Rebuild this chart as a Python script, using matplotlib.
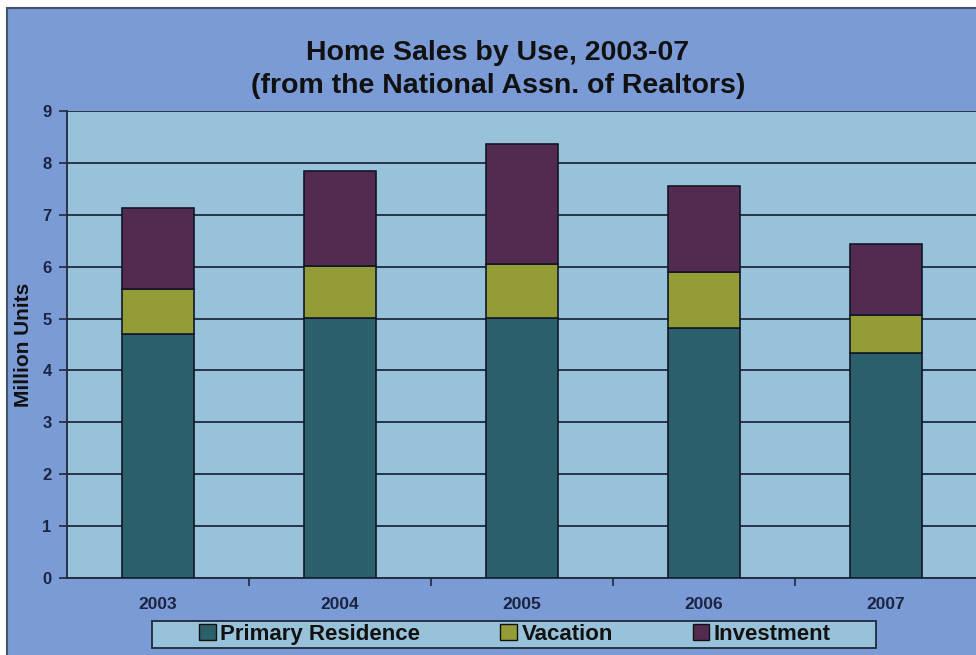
import matplotlib
matplotlib.use("Agg")
import matplotlib.pyplot as plt
from matplotlib.patches import Rectangle, Patch
import numpy as np

years = ["2003", "2004", "2005", "2006", "2007"]
primary = [4.70, 5.01, 5.01, 4.82, 4.34]
vacation = [0.87, 1.00, 1.04, 1.08, 0.73]
investment = [1.56, 1.83, 2.31, 1.65, 1.37]
series_names = ["Primary Residence", "Vacation", "Investment"]
colors = ["#2B5F6B", "#949C38", "#532A52"]
yticks = [0, 1, 2, 3, 4, 5, 6, 7, 8, 9]

plt.rcParams['font.family'] = ['Liberation Sans', 'DejaVu Sans']

W, H = 976, 655
fig = plt.figure(figsize=(W / 100, H / 100), dpi=100)
fig.patch.set_facecolor("white")
frame = Rectangle((7 / W, -0.01), 1.0, (H - 8) / H + 0.01, transform=fig.transFigure,
                  facecolor="#7B9BD7", edgecolor="#3E5566", linewidth=1.5, zorder=-10)
fig.patches.append(frame)

ax = fig.add_axes([67 / W, (H - 578) / H, 910 / W, (578 - 111) / H])
ax.set_facecolor("#98C2DA")

x = np.arange(len(years))
bw = 0.4
edge = "#111827"
ax.bar(x, primary, bw, color=colors[0], edgecolor=edge, linewidth=1.2, zorder=3)
bottom2 = np.array(primary)
ax.bar(x, vacation, bw, bottom=bottom2, color=colors[1], edgecolor=edge, linewidth=1.2, zorder=3)
bottom3 = bottom2 + np.array(vacation)
ax.bar(x, investment, bw, bottom=bottom3, color=colors[2], edgecolor=edge, linewidth=1.2, zorder=3)

ax.set_xlim(-0.5, len(years) - 0.5)
ax.set_ylim(0, 9)
ax.set_yticks(yticks)
ax.yaxis.grid(True, color="#1E2B3C", linewidth=1.3, zorder=1)
ax.set_axisbelow(True)

ax.set_xticks(x)
ax.set_xticklabels(years)
ax.set_xticks(np.arange(0.5, len(years) - 1, 1.0), minor=True)
ax.tick_params(axis="x", which="major", length=0, pad=14)
ax.tick_params(axis="x", which="minor", length=6, width=1.2, color="#1E2B3C", direction="out")
ax.tick_params(axis="y", length=6, width=1.2, color="#1E2B3C", direction="out", pad=5)
for lab in ax.get_xticklabels():
    lab.set_fontweight("bold")
    lab.set_fontsize(12.5)
    lab.set_color("#1B2440")
for lab in ax.get_yticklabels():
    lab.set_fontweight("bold")
    lab.set_fontsize(12)
    lab.set_color("#1B2440")

for s in ["top", "right"]:
    ax.spines[s].set_visible(False)
for s in ["left", "bottom"]:
    ax.spines[s].set_color("#1E2B3C")
    ax.spines[s].set_linewidth(1.3)

ax.set_ylabel("Million Units", fontsize=15, fontweight="bold", color="#111111", labelpad=7)

fig.text(0.510, 1 - 53 / H, "Home Sales by Use, 2003-07", ha="center", va="center",
         fontsize=20.5, fontweight="bold", color="#111111")
fig.text(0.510, 1 - 86 / H, "(from the National Assn. of Realtors)", ha="center", va="center",
         fontsize=20.5, fontweight="bold", color="#111111")

# legend box
box = Rectangle((152 / W, 1 - 648 / H), (876 - 152) / W, 27 / H, transform=fig.transFigure,
                facecolor="#98C2DA", edgecolor="#1E2B3C", linewidth=1.3, zorder=2)
fig.patches.append(box)

handles = [Patch(facecolor=c, edgecolor="#111111", linewidth=1.0) for c in colors]
leg = fig.legend(handles, series_names, loc="center", bbox_to_anchor=(515 / W, 1 - 634.5 / H),
                 ncol=3, frameon=False,
                 prop={"size": 16, "weight": "bold"},
                 handlelength=0.75, handleheight=0.75, handletextpad=0.2,
                 columnspacing=3.6, borderpad=0.1, borderaxespad=0)
leg.set_zorder(5)
for t in leg.get_texts():
    t.set_color("#111111")

fig.savefig("out.png", dpi=100, facecolor=fig.get_facecolor())
